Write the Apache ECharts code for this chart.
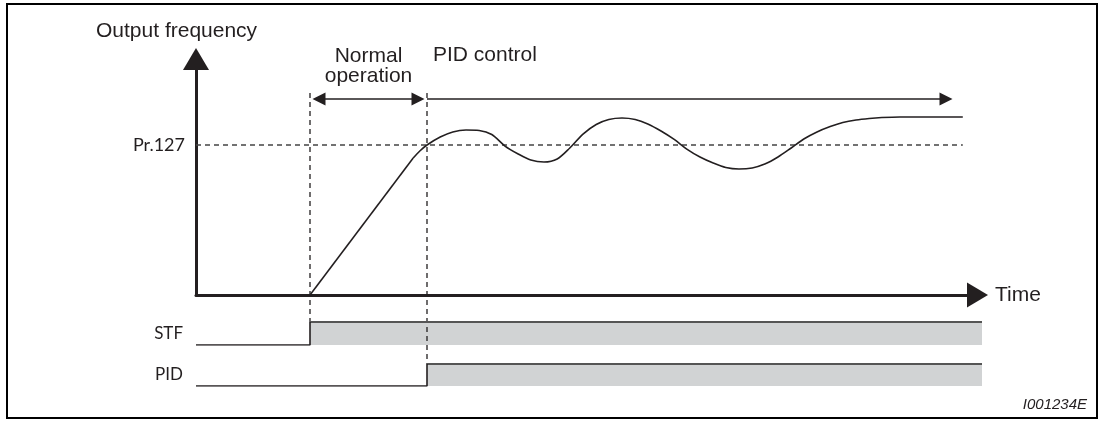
<!DOCTYPE html>
<html>
<head>
<meta charset="utf-8">
<script src="https://cdn.jsdelivr.net/npm/echarts@6/dist/echarts.min.js"></script>
<style>
html,body{margin:0;padding:0;background:#fff;}
#chart{width:1103px;height:423px;}
</style>
</head>
<body>
<div id="chart"></div>
<script>
// ---- data (time units / frequency units) ----
const stfOnTime = 19;          // STF switched on, normal operation starts
const pidOnTime = 38.5;        // PID switched on, PID control starts
const signalStart = 0;
const signalEnd = 131;
const setpoint = 100;          // Pr.127 level
const setpointEnd = 127.8;

// acceleration ramp (normal operation)
const rampT = [19, 36.2];
const rampF = [0, 91.3];

// PID controlled output frequency
const curveT = [36.2, 37.3, 38.5, 40.7, 42.8, 45, 47.2, 49.3, 51.5, 53.7, 55.8, 58, 60.2, 62.3, 64.5, 66.7, 68.8, 71, 73.2, 75.3, 77.5, 79.7, 81.8, 84, 86.2, 88.3, 90.5, 92.7, 94.8, 97, 99.2, 101.3, 103.5, 105.7, 107.8, 110, 112.2, 114.3, 117.3, 127.8];
const curveF = [91.3, 96, 100, 105.3, 108.7, 110, 109.7, 107, 99.3, 94, 90, 88.7, 90.7, 98, 107.3, 113.7, 117, 118, 117, 114, 109.3, 103.7, 97.3, 92, 88, 85, 84, 84.7, 87.3, 92, 98, 104, 108.7, 112.3, 115, 116.7, 117.7, 118.3, 118.7, 118.7];

// interval markers
const normalArrow = [20.5, 37];
const pidArrow = [38.5, 125];
const arrowLevel = 130.7;
const markerTop = 134.7;
const stfMarkerBottom = -18;
const pidMarkerBottom = -46;

// tick labels
const yTickLabels = {100: 'Pr.127'};
const signalNames = ['STF', 'PID'];
const yName = 'Output frequency';
const xName = 'Time';
const normalLabel = 'Normal\noperation';
const pidLabel = 'PID control';
const figId = 'I001234E';

const INK = '#231f20';
const GRAY = '#d1d3d4';
const SANS = 'Liberation Sans, Arial, sans-serif';
const GEO = 'Lato, sans-serif';

const zip = (a, b) => a.map((v, i) => [v, b[i]]);

const chart = echarts.init(document.getElementById('chart'), null, {renderer: 'canvas'});

const signalAxis = (idx, name) => ({
  type: 'value', gridIndex: idx, min: 0, max: 1,
  axisLine: {show: false}, axisTick: {show: false}, axisLabel: {show: false}, splitLine: {show: false},
  name: name, nameLocation: 'middle', nameRotate: 0, nameGap: 13,
  nameTextStyle: {fontFamily: GEO, fontSize: 17, color: INK}
});
const signalX = idx => ({type: 'value', gridIndex: idx, min: signalStart, max: signalEnd, show: false});

const option = {
  animation: false,
  backgroundColor: '#fff',
  title: [
    {text: yName, left: 96, top: 21, padding: 0, textStyle: {fontFamily: SANS, fontSize: 21, fontWeight: 'normal', color: INK}},
    {text: figId, right: 16, top: 397, padding: 0, textStyle: {fontFamily: SANS, fontSize: 15, fontStyle: 'italic', fontWeight: 'normal', color: INK}}
  ],
  graphic: [
    {type: 'rect', shape: {x: 7, y: 4, width: 1090, height: 414}, style: {fill: 'none', stroke: '#000', lineWidth: 2}, silent: true}
  ],
  grid: [
    {left: 196, top: 70, width: 771, height: 225},
    {left: 196, top: 322, width: 786, height: 23},
    {left: 196, top: 364, width: 786, height: 22}
  ],
  xAxis: [
    {type: 'value', gridIndex: 0, min: 0, max: 128.5,
      axisLine: {show: true, lineStyle: {color: INK, width: 3}, symbol: ['none', 'triangle'], symbolSize: [25, 21], symbolOffset: [0, 10.5]},
      axisTick: {show: false}, axisLabel: {show: false}, splitLine: {show: false},
      name: xName, nameLocation: 'end', nameGap: 28,
      nameTextStyle: {fontFamily: SANS, fontSize: 21, color: INK}},
    signalX(1), signalX(2)
  ],
  yAxis: [
    {type: 'value', gridIndex: 0, min: 0, max: 150, interval: 50,
      axisLine: {show: true, lineStyle: {color: INK, width: 3}, symbol: ['none', 'triangle'], symbolSize: [26, 22], symbolOffset: [0, 11]},
      axisTick: {show: false}, splitLine: {show: false},
      axisLabel: {margin: 11, fontFamily: GEO, fontSize: 18, color: INK, formatter: v => yTickLabels[v] || ''}},
    signalAxis(1, signalNames[0]), signalAxis(2, signalNames[1])
  ],
  series: [
    // Pr.127 setpoint line
    {type: 'line', xAxisIndex: 0, yAxisIndex: 0, symbol: 'none', silent: true,
      data: [[0, setpoint], [setpointEnd, setpoint]],
      lineStyle: {color: '#444', width: 1.5, type: [5, 4]}},
    // event markers
    {type: 'line', xAxisIndex: 0, yAxisIndex: 0, symbol: 'none', silent: true, clip: false,
      data: [[stfOnTime, markerTop], [stfOnTime, stfMarkerBottom]],
      lineStyle: {color: INK, width: 1.3, type: [5, 4]}},
    {type: 'line', xAxisIndex: 0, yAxisIndex: 0, symbol: 'none', silent: true, clip: false,
      data: [[pidOnTime, markerTop], [pidOnTime, pidMarkerBottom]],
      lineStyle: {color: INK, width: 1.3, type: [5, 4]},
      markLine: {silent: true, symbol: ['triangle', 'triangle'], symbolSize: [13, 13],
        lineStyle: {color: INK, width: 1.6, type: 'solid'},
        label: {show: true, position: 'middle', distance: 13, fontFamily: SANS, fontSize: 21, lineHeight: 20, color: INK, formatter: normalLabel},
        data: [[{coord: [normalArrow[0], arrowLevel]}, {coord: [normalArrow[1], arrowLevel]}]]}},
    {type: 'line', xAxisIndex: 0, yAxisIndex: 0, symbol: 'none', silent: true, clip: false,
      data: [],
      markLine: {silent: true, symbol: ['none', 'triangle'], symbolSize: [13, 13],
        lineStyle: {color: INK, width: 1.6, type: 'solid'},
        label: {show: true, position: 'insideStartTop', distance: [6, 33], fontFamily: SANS, fontSize: 21, color: INK, formatter: pidLabel},
        data: [[{coord: [pidArrow[0], arrowLevel]}, {coord: [pidArrow[1], arrowLevel]}]]}},
    // acceleration ramp
    {type: 'line', xAxisIndex: 0, yAxisIndex: 0, symbol: 'none', silent: true,
      data: zip(rampT, rampF), lineStyle: {color: INK, width: 1.6}},
    // PID response
    {type: 'line', xAxisIndex: 0, yAxisIndex: 0, symbol: 'none', silent: true, smooth: 0.3,
      data: zip(curveT, curveF), lineStyle: {color: INK, width: 1.6}},
    // STF signal
    {type: 'line', xAxisIndex: 1, yAxisIndex: 1, symbol: 'none', silent: true,
      data: [[stfOnTime, 1], [signalEnd, 1]],
      lineStyle: {color: '#555', width: 2}, areaStyle: {color: GRAY, opacity: 1, origin: 'start'}},
    {type: 'line', xAxisIndex: 1, yAxisIndex: 1, symbol: 'none', silent: true,
      data: [[signalStart, 0], [stfOnTime, 0], [stfOnTime, 1]],
      lineStyle: {color: INK, width: 1.6}},
    // PID signal
    {type: 'line', xAxisIndex: 2, yAxisIndex: 2, symbol: 'none', silent: true,
      data: [[pidOnTime, 1], [signalEnd, 1]],
      lineStyle: {color: '#555', width: 2}, areaStyle: {color: GRAY, opacity: 1, origin: 'start'}},
    {type: 'line', xAxisIndex: 2, yAxisIndex: 2, symbol: 'none', silent: true,
      data: [[signalStart, 0], [pidOnTime, 0], [pidOnTime, 1]],
      lineStyle: {color: INK, width: 1.6}}
  ]
};
chart.setOption(option);
</script>
</body>
</html>
